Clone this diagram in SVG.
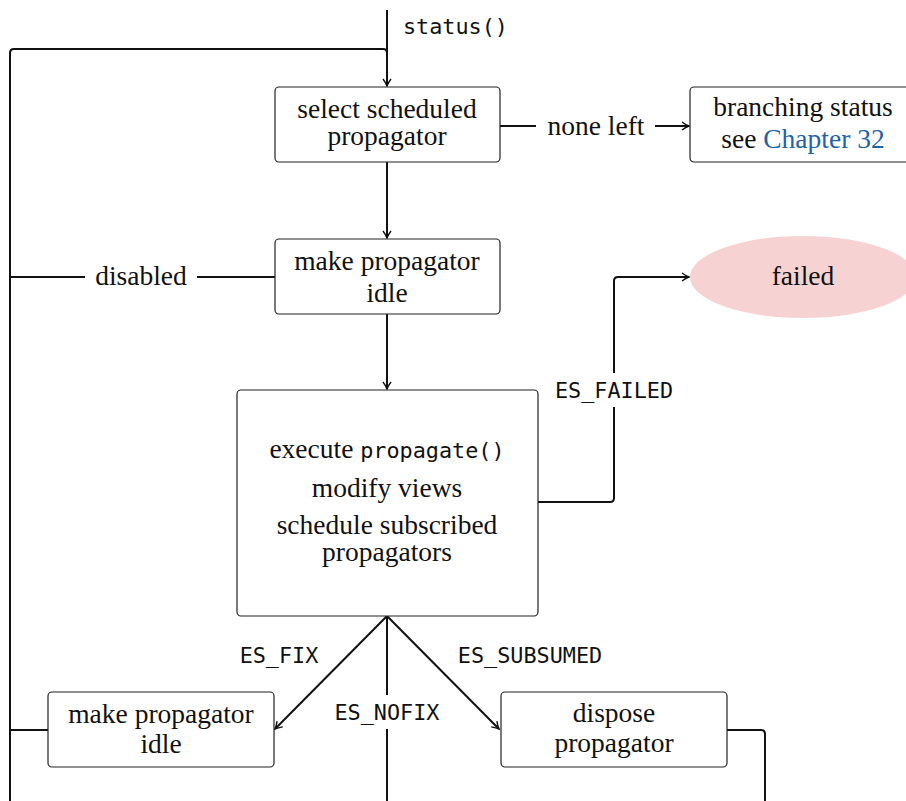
<svg xmlns="http://www.w3.org/2000/svg" width="906" height="801" viewBox="0 0 906 801">
<style>
.box{fill:#fff;stroke:#222;stroke-width:1.2}
.t{font-family:"Liberation Serif","Times New Roman",serif;font-size:27.5px;fill:#111;text-anchor:middle}
.m{font-family:"DejaVu Sans Mono","Liberation Mono",monospace;font-size:21.8px;fill:#111}
.c{fill:none;stroke:#111;stroke-width:2;stroke-linejoin:round}
</style>
<defs>
<marker id="a" markerWidth="12" markerHeight="12" refX="9" refY="6" orient="auto" markerUnits="userSpaceOnUse">
<path d="M2,2 Q6,5 9,6 Q6,7 2,10" fill="none" stroke="#111" stroke-width="1.4"/>
</marker>
</defs>
<g id="connectors">
<path class="c" d="M387,10 V86" marker-end="url(#a)"/>
<path class="c" d="M10,801 V53 Q10,49 14,49 H383 Q387,49 387,53"/>
<path class="c" d="M387,162 V238" marker-end="url(#a)"/>
<path class="c" d="M387,314 V389" marker-end="url(#a)"/>
<path class="c" d="M10,277 H85 M197,277 H275"/>
<path class="c" d="M500,126 H536 M655,126 H689" marker-end="url(#a)"/>
<path class="c" d="M538,502 H610 Q614,502 614,498 V407"/>
<path class="c" d="M614,373 V281 Q614,277 618,277 H689" marker-end="url(#a)"/>
<path class="c" d="M387,616 L275,729" marker-end="url(#a)"/>
<path class="c" d="M387,616 L499,729" marker-end="url(#a)"/>
<path class="c" d="M387,616 V695 M387,729 V801"/>
<path class="c" d="M48,730 H10"/>
<path class="c" d="M727,730 H761 Q765,730 765,734 V801"/>
<text class="m" x="403" y="34">status()</text>
<text class="t" x="141" y="285">disabled</text>
<text class="t" x="596" y="135">none left</text>
<text class="m" x="614" y="398" text-anchor="middle">ES_FAILED</text>
<text class="m" x="279" y="663" text-anchor="middle">ES_FIX</text>
<text class="m" x="530" y="663" text-anchor="middle">ES_SUBSUMED</text>
<text class="m" x="387" y="720" text-anchor="middle">ES_NOFIX</text>
</g>
<g id="select">
<rect class="box" x="275" y="87" width="225" height="75" rx="4"/>
<text class="t" x="387" y="118">select scheduled</text>
<text class="t" x="387" y="145">propagator</text>
</g>
<g id="branching">
<rect class="box" x="690" y="87" width="225" height="75" rx="4"/>
<text class="t" x="803" y="116">branching status</text>
<text class="t" x="803" y="148">see <tspan fill="#1f63a6">Chapter 32</tspan></text>
</g>
<g id="idle1">
<rect class="box" x="275" y="239" width="225" height="75" rx="4"/>
<text class="t" x="387" y="270">make propagator</text>
<text class="t" x="387" y="302">idle</text>
</g>
<g id="failed">
<ellipse cx="803" cy="277" rx="113" ry="41" fill="#f6d3d2"/>
<text class="t" x="803" y="285">failed</text>
</g>
<g id="execute">
<rect class="box" x="237" y="390" width="301" height="226" rx="4"/>
<text class="t" x="387" y="458">execute <tspan class="m">propagate()</tspan></text>
<text class="t" x="387" y="497">modify views</text>
<text class="t" x="387" y="534">schedule subscribed</text>
<text class="t" x="387" y="561">propagators</text>
</g>
<g id="idle2">
<rect class="box" x="48" y="692" width="226" height="75" rx="4"/>
<text class="t" x="161" y="723">make propagator</text>
<text class="t" x="161" y="753">idle</text>
</g>
<g id="dispose">
<rect class="box" x="501" y="692" width="226" height="75" rx="4"/>
<text class="t" x="614" y="722">dispose</text>
<text class="t" x="614" y="752">propagator</text>
</g>
</svg>
